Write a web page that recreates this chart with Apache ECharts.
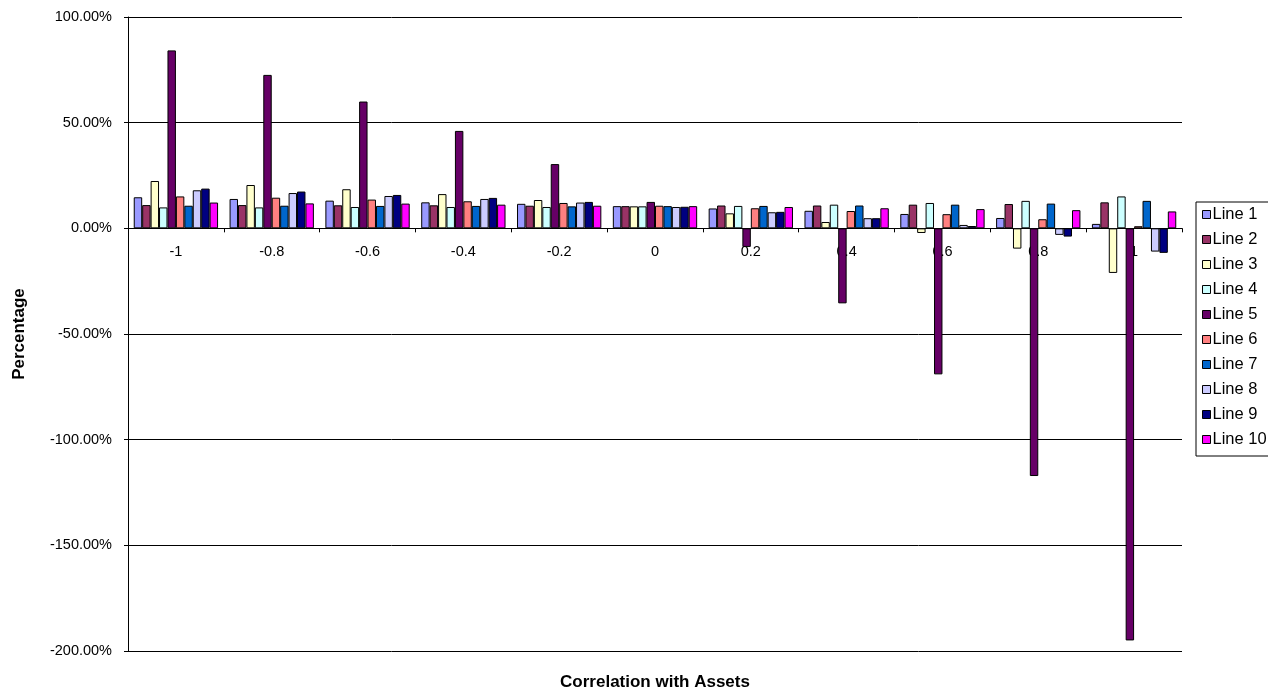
<!DOCTYPE html>
<html>
<head>
<meta charset="utf-8">
<style>
  html, body { margin: 0; padding: 0; background: #ffffff; }
  #chart { width: 1268px; height: 693px; }
</style>
<script src="https://cdn.jsdelivr.net/npm/echarts@6/dist/echarts.min.js"></script>
</head>
<body>
<div id="chart"></div>
<script>
// Correlation levels on the category axis
const categories = ['-1', '-0.8', '-0.6', '-0.4', '-0.2', '0', '0.2', '0.4', '0.6', '0.8', '1'];

// Percentage for each line at every correlation level
const line1  = [14.7, 13.9, 13.1, 12.3, 11.6, 10.5,  9.4,   8.3,   6.8,    4.9,    2.1];
const line2  = [11.0, 11.0, 10.9, 10.9, 10.7, 10.5, 10.8,  10.8,  11.2,   11.5,   12.3];
const line3  = [22.4, 20.5, 18.5, 16.2, 13.4, 10.4,  7.1,   3.0,  -2.2,   -9.6,  -21.1];
const line4  = [ 9.9,  9.9, 10.1, 10.1, 10.1, 10.4, 10.6,  11.2,  12.0,   13.0,   15.1];
const line5  = [84.2, 72.6, 60.0, 46.1, 30.4, 12.5, -8.8, -35.5, -69.1, -117.2, -195.0];
const line6  = [15.1, 14.5, 13.6, 12.8, 12.0, 10.7,  9.5,   8.2,   6.7,    4.3,    1.0];
const line7  = [10.7, 10.7, 10.6, 10.6, 10.4, 10.5, 10.6,  10.8,  11.2,   11.7,   13.0];
const line8  = [18.0, 16.7, 15.3, 13.9, 12.2, 10.1,  7.6,   4.8,   1.6,   -3.1,  -11.0];
const line9  = [18.8, 17.4, 15.8, 14.4, 12.5, 10.2,  7.8,   4.8,   1.1,   -3.9,  -11.6];
const line10 = [12.2, 11.8, 11.7, 11.2, 10.7, 10.5, 10.1,   9.5,   9.1,    8.6,    8.0];

const seriesNames = ['Line 1', 'Line 2', 'Line 3', 'Line 4', 'Line 5',
                     'Line 6', 'Line 7', 'Line 8', 'Line 9', 'Line 10'];
const seriesValues = [line1, line2, line3, line4, line5, line6, line7, line8, line9, line10];
const seriesColors = ['#9999FF', '#993366', '#FFFFCC', '#CCFFFF', '#660066',
                      '#FF8080', '#0066CC', '#CCCCFF', '#000080', '#FF00FF'];

const Y_MIN = -200, Y_MAX = 100;
const GRID = { left: 128, right: 86, top: 17, bottom: 42 };
const plotHeight = 693 - GRID.top - GRID.bottom;
// Lift the category axis (line, ticks, labels) from the plot bottom up to the 0% level
const zeroLift = plotHeight * (0 - Y_MIN) / (Y_MAX - Y_MIN);
const plotCenterX = GRID.left + (1268 - GRID.left - GRID.right) / 2;

const FONT = '"Liberation Sans", Arial, sans-serif';

const chart = echarts.init(document.getElementById('chart'), null, { renderer: 'canvas' });

chart.setOption({
  animation: false,
  backgroundColor: '#ffffff',
  textStyle: { fontFamily: FONT, color: '#000000' },
  grid: Object.assign({ containLabel: false }, GRID),
  legend: {
    orient: 'vertical',
    left: 1196,
    top: 202,
    padding: [4, 30, 8, 6],
    itemGap: 8,
    itemWidth: 8,
    itemHeight: 8,
    icon: 'rect',
    backgroundColor: '#ffffff',
    borderColor: '#000000',
    borderWidth: 1,
    borderRadius: 0,
    textStyle: { fontFamily: FONT, fontSize: 16.5, color: '#000000', padding: [0, 0, 0, -3] },
    itemStyle: { borderColor: '#000000', borderWidth: 1 },
    data: seriesNames
  },
  xAxis: {
    type: 'category',
    data: categories,
    boundaryGap: true,
    position: 'bottom',
    offset: -zeroLift,
    axisLine: { onZero: false, lineStyle: { color: '#000000', width: 1 } },
    axisTick: { show: true, length: 4, alignWithLabel: false, lineStyle: { color: '#000000' } },
    axisLabel: { fontFamily: FONT, fontSize: 14.5, color: '#000000', margin: 16 },
    splitLine: { show: false }
  },
  yAxis: {
    type: 'value',
    min: Y_MIN,
    max: Y_MAX,
    interval: 50,
    name: 'Percentage',
    nameLocation: 'middle',
    nameRotate: 90,
    nameGap: 100,
    nameTextStyle: { fontFamily: FONT, fontSize: 17, fontWeight: 'bold', color: '#000000' },
    axisLine: { show: true, lineStyle: { color: '#000000', width: 1 } },
    axisTick: { show: true, length: 4, inside: false, lineStyle: { color: '#000000' } },
    axisLabel: {
      fontFamily: FONT, fontSize: 14.5, color: '#000000', margin: 16,
      formatter: v => v.toFixed(2) + '%'
    },
    splitLine: { show: true, lineStyle: { color: '#000000', width: 1 } }
  },
  graphic: [{
    type: 'text',
    x: plotCenterX,
    y: 682,
    style: {
      text: 'Correlation with Assets',
      font: 'bold 17px ' + FONT,
      fill: '#000000',
      align: 'center',
      verticalAlign: 'middle'
    }
  }],
  series: seriesNames.map((name, i) => ({
    name: name,
    type: 'bar',
    data: seriesValues[i],
    barGap: '0%',
    barCategoryGap: '12%',
    itemStyle: { color: seriesColors[i], borderColor: '#000000', borderWidth: 1 }
  }))
});
</script>
</body>
</html>
